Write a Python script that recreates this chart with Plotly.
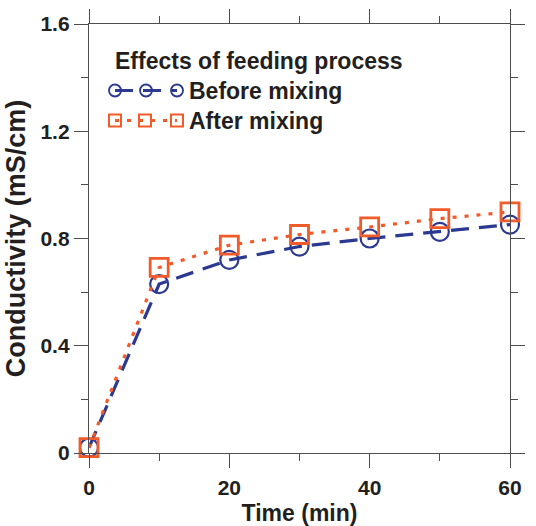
import plotly.graph_objects as go

# ---- data ----
time_min = [0, 10, 20, 30, 40, 50, 60]
before_mixing = [0.02, 0.63, 0.72, 0.77, 0.80, 0.825, 0.852]
after_mixing = [0.02, 0.692, 0.775, 0.815, 0.843, 0.874, 0.899]

series_names = ["Before mixing", "After mixing"]
legend_title = "Effects of feeding process"
x_title = "Time (min)"
y_title = "Conductivity (mS/cm)"

BLUE = "#2B3990"
ORANGE = "#F15A29"
TXT = "#231F20"
AX = "#4D4D4D"
FONT = "Liberation Sans"

W, H = 536, 526
ML, MR, MT, MB = 89, 26, 24, 73

fig = go.Figure()

fig.add_trace(go.Scatter(
    x=time_min, y=before_mixing, name=series_names[0], mode="lines+markers",
    line=dict(color=BLUE, width=3.2, dash="18px,10px"),
    marker=dict(symbol="circle-open", size=18, color=BLUE, line=dict(width=2.2, color=BLUE)),
    cliponaxis=False, showlegend=False,
))
fig.add_trace(go.Scatter(
    x=time_min, y=after_mixing, name=series_names[1], mode="lines+markers",
    line=dict(color=ORANGE, width=3.2, dash="4px,8px"),
    marker=dict(symbol="square-open", size=18, color=ORANGE, line=dict(width=2.8, color=ORANGE)),
    cliponaxis=False, showlegend=False,
))

# ---- custom legend drawn on a pixel overlay axis ----
fig.add_trace(go.Scatter(
    x=[115, 146, 177], y=[90.5] * 3, xaxis="x2", yaxis="y2", mode="lines+markers",
    line=dict(color=BLUE, width=3, dash="18px,10px"),
    marker=dict(symbol="circle-open", size=12, color=BLUE, line=dict(width=1.8, color=BLUE)),
    cliponaxis=False, showlegend=False, hoverinfo="skip",
))
fig.add_trace(go.Scatter(
    x=[115, 145, 177], y=[120.5] * 3, xaxis="x2", yaxis="y2", mode="lines+markers",
    line=dict(color=ORANGE, width=3, dash="4px,8px"),
    marker=dict(symbol="square-open", size=12, color=ORANGE, line=dict(width=2, color=ORANGE)),
    cliponaxis=False, showlegend=False, hoverinfo="skip",
))

ann = [
    dict(text=legend_title, x=113, y=61, xanchor="left", yanchor="middle"),
    dict(text=series_names[0], x=187, y=91, xanchor="left", yanchor="middle"),
    dict(text=series_names[1], x=187, y=121, xanchor="left", yanchor="middle"),
]
annotations = [dict(a, xref="x2", yref="y2", showarrow=False,
                    font=dict(family=FONT, size=23, color=TXT, weight="bold")) for a in ann]

axis_common = dict(
    showline=True, linecolor=AX, linewidth=1.3, mirror="ticks",
    ticks="outside", ticklen=14, tickwidth=1.3, tickcolor=AX,
    showgrid=False, zeroline=False, automargin=False,
    tickfont=dict(family=FONT, size=21, color=TXT, weight="bold"),
)

fig.update_layout(
    width=W, height=H,
    margin=dict(l=ML, r=MR, t=MT, b=MB, pad=0, autoexpand=False),
    paper_bgcolor="white", plot_bgcolor="white",
    annotations=annotations,
    xaxis=dict(
        range=[0, 60], dtick=20, tick0=0, ticklabelstandoff=2,
        minor=dict(ticks="outside", dtick=10, ticklen=7, tickwidth=1.3, tickcolor=AX),
        title=dict(text=x_title, standoff=6,
                   font=dict(family=FONT, size=23, color=TXT, weight="bold")),
        **axis_common,
    ),
    yaxis=dict(
        range=[0, 1.6], dtick=0.4, tick0=0,
        minor=dict(ticks="outside", dtick=0.2, ticklen=7, tickwidth=1.3, tickcolor=AX),
        title=dict(text=y_title, standoff=6,
                   font=dict(family=FONT, size=27, color=TXT, weight="bold")),
        **axis_common,
    ),
    xaxis2=dict(overlaying="x", range=[ML, W - MR], visible=False, fixedrange=True),
    yaxis2=dict(overlaying="y", range=[H - MB, MT], visible=False, fixedrange=True),
)

fig.write_html("out.html")
